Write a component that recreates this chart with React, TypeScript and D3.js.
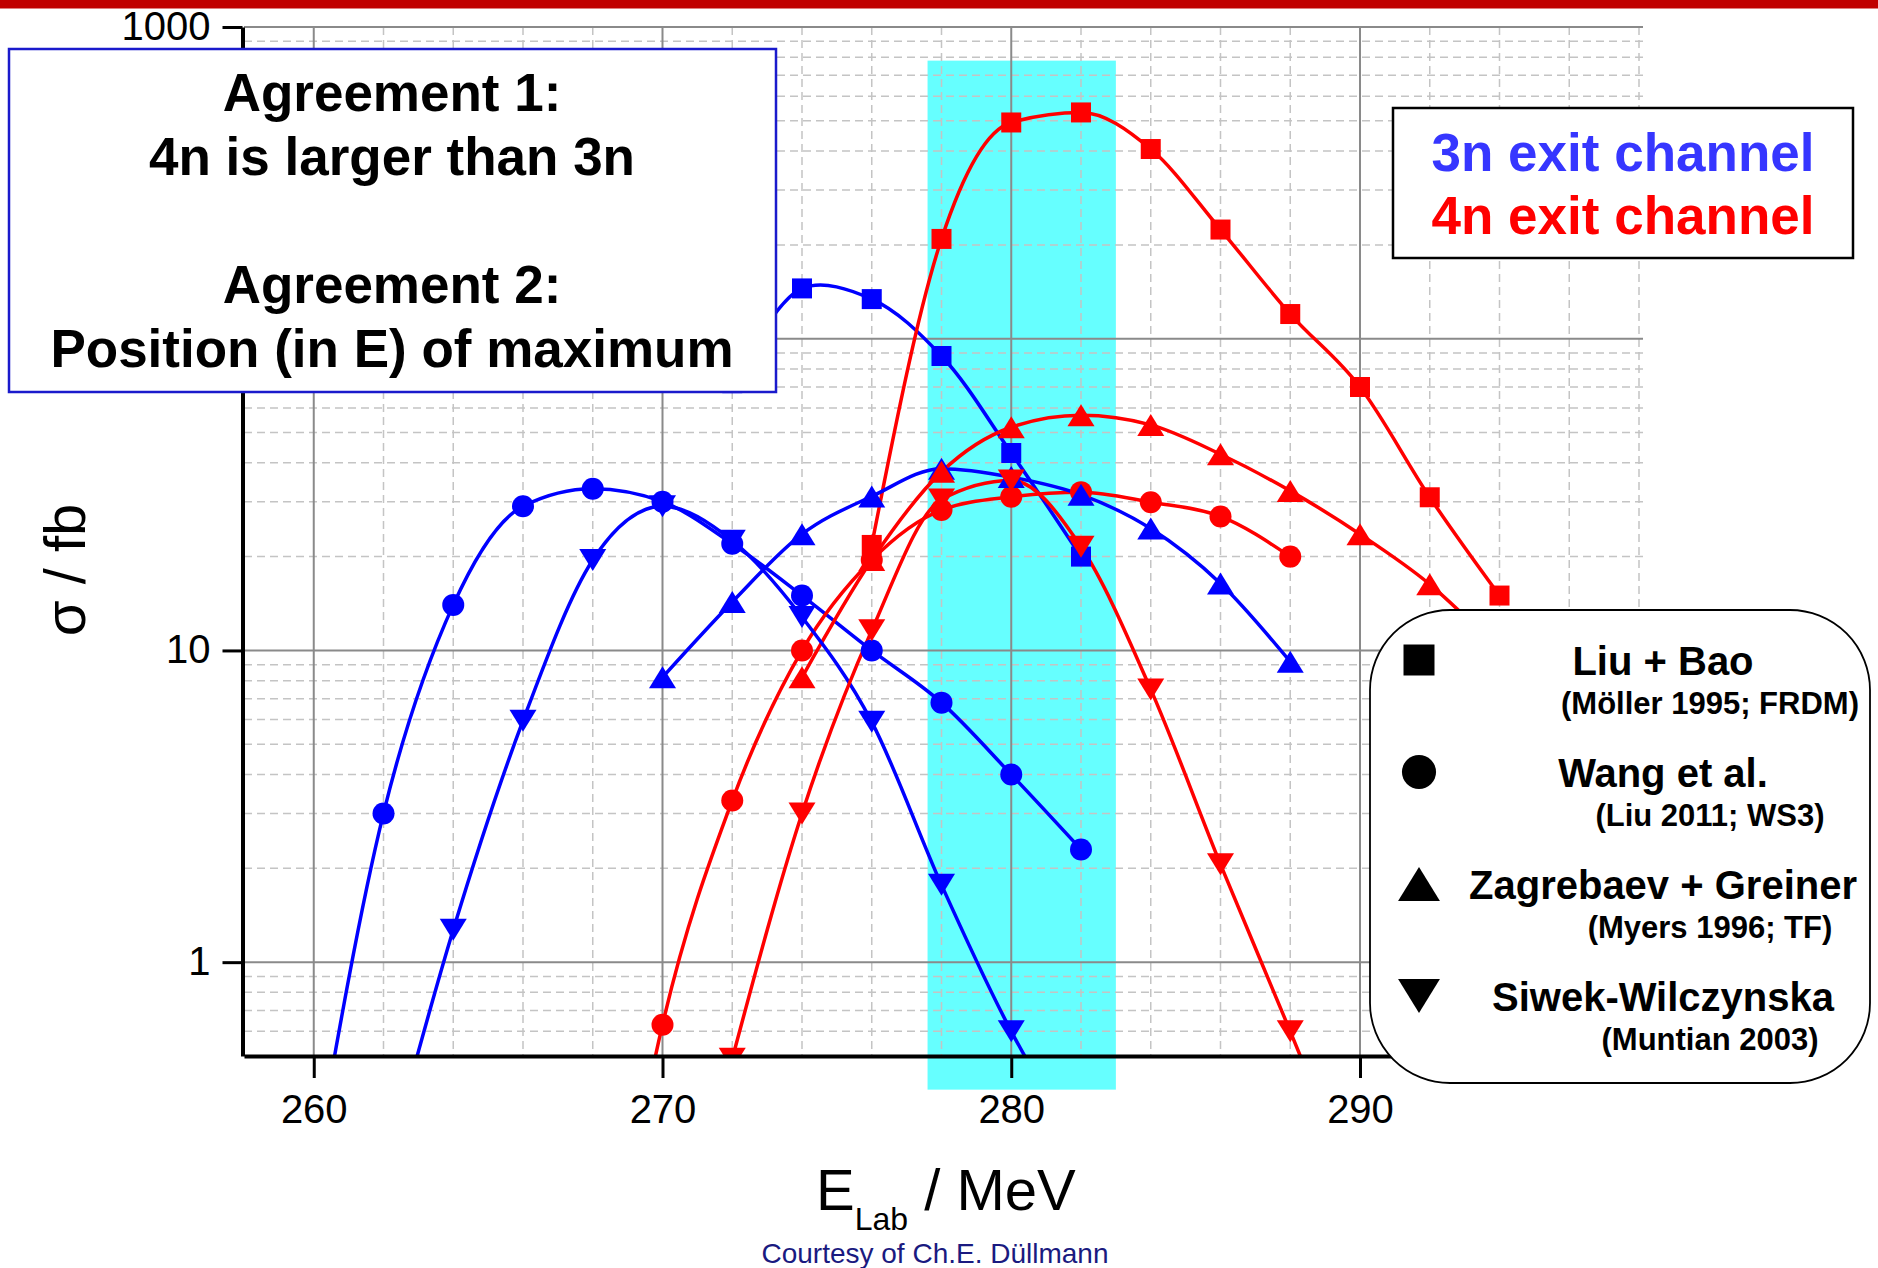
import React, { useRef, useEffect } from "react";
import * as d3 from "d3";

const W = 1878;
const H = 1268;
const PLOT = { left: 244, right: 1639, top: 27, bottom: 1056 };
const FONT = "'Liberation Sans', Arial, Helvetica, sans-serif";

const BLUE = "#0000ff";
const RED = "#ff0000";

// ── axes ─────────────────────────────────────────────────
const X_DOMAIN = [258, 298];
const Y_DOMAIN = [0.5, 1000];
const X_MAJOR = [260, 270, 280, 290];
const X_MINOR = [258, 262, 264, 266, 268, 272, 274, 276, 278, 282, 284, 286, 288, 292, 294, 296, 298];
const Y_MAJOR = [1, 10, 100, 1000];
const Y_LABELS = [1, 10, 1000]; // "100" sits under the annotation box
const Y_MINOR = [0.6, 0.7, 0.8, 0.9, 2, 3, 4, 5, 6, 7, 8, 9, 20, 30, 40, 50, 60, 70, 80, 90, 200, 300, 400, 500, 600, 700, 800, 900];

// highlighted energy window (MeV) and its vertical extent (fb)
const BAND_E = [277.6, 283.0];
const BAND_S = [0.39, 780];

// ── 3n exit channel ─────────────────────────────────────
const E_LIU_3N = [272, 274, 276, 278, 280, 282];
const S_LIU_3N = [72, 145, 134, 88, 43, 20];

const E_WANG_3N = [260, 262, 264, 266, 268, 270, 272, 274, 276, 278, 280, 282];
const S_WANG_3N = [0.21, 3.0, 14, 29, 33, 30, 22, 15, 10, 6.8, 4.0, 2.3];

const E_ZAG_3N = [270, 272, 274, 276, 278, 280, 282, 284, 286, 288];
const S_ZAG_3N = [8.2, 14.3, 23.6, 31.2, 38.3, 36, 31.6, 24.6, 16.4, 9.2];

const E_SIW_3N = [262, 264, 266, 268, 270, 272, 274, 276, 278, 280, 282];
const S_SIW_3N = [0.2, 1.27, 5.95, 19.5, 29, 22.5, 12.8, 5.9, 1.77, 0.6, 0.25];

// ── 4n exit channel ─────────────────────────────────────
const E_LIU_4N = [276, 278, 280, 282, 284, 286, 288, 290, 292, 294];
const S_LIU_4N = [21.8, 209, 494, 532, 406, 224, 120, 70, 31, 15];

const E_WANG_4N = [268, 270, 272, 274, 276, 278, 280, 282, 284, 286, 288];
const S_WANG_4N = [0.04, 0.63, 3.3, 10, 19.5, 28.2, 31.1, 32.2, 29.9, 26.9, 20];

const E_ZAG_4N = [274, 276, 278, 280, 282, 284, 286, 288, 290, 292, 294];
const S_ZAG_4N = [8.2, 19.5, 37.4, 52, 56.8, 52.9, 42.6, 32.5, 23.6, 16.3, 10];

const E_SIW_4N = [272, 274, 276, 278, 280, 282, 284, 286, 288, 290];
const S_SIW_4N = [0.49, 3.0, 11.6, 30.5, 35.1, 21.5, 7.5, 2.06, 0.6, 0.17];

// ── texts ───────────────────────────────────────────────
const NOTE_LINES = ["Agreement 1:", "4n is larger than 3n", "", "Agreement 2:", "Position (in E) of maximum"];
const CHANNEL_LABELS = ["3n exit channel", "4n exit channel"];
const LEGEND_TITLES = ["Liu + Bao", "Wang et al.", "Zagrebaev + Greiner", "Siwek-Wilczynska"];
const LEGEND_SUBS = ["(Möller 1995; FRDM)", "(Liu 2011; WS3)", "(Myers 1996; TF)", "(Muntian 2003)"];
const LEGEND_SHAPES = ["square", "circle", "up", "down"];

const SERIES = [
  { e: E_LIU_3N, s: S_LIU_3N, color: BLUE, shape: "square", curve: d3.curveCatmullRom },
  { e: E_LIU_4N, s: S_LIU_4N, color: RED, shape: "square", curve: d3.curveMonotoneX },
  { e: E_WANG_3N, s: S_WANG_3N, color: BLUE, shape: "circle", curve: d3.curveMonotoneX },
  { e: E_WANG_4N, s: S_WANG_4N, color: RED, shape: "circle", curve: d3.curveMonotoneX },
  { e: E_ZAG_3N, s: S_ZAG_3N, color: BLUE, shape: "up", curve: d3.curveMonotoneX },
  { e: E_ZAG_4N, s: S_ZAG_4N, color: RED, shape: "up", curve: d3.curveMonotoneX },
  { e: E_SIW_3N, s: S_SIW_3N, color: BLUE, shape: "down", curve: d3.curveMonotoneX },
  { e: E_SIW_4N, s: S_SIW_4N, color: RED, shape: "down", curve: d3.curveMonotoneX },
];

function markerPath(shape: string, k: number) {
  if (shape === "square") {
    const h = 10 * k;
    return `M${-h},${-h}h${2 * h}v${2 * h}h${-2 * h}Z`;
  }
  if (shape === "circle") {
    const r = 11 * k;
    return `M${-r},0a${r},${r} 0 1,0 ${2 * r},0a${r},${r} 0 1,0 ${-2 * r},0Z`;
  }
  const hw = 13.5 * k;
  const hh = 11 * k;
  if (shape === "up") return `M0,${-hh}L${hw},${hh}L${-hw},${hh}Z`;
  return `M0,${hh}L${hw},${-hh}L${-hw},${-hh}Z`;
}

export default function App() {
  const svgRef = useRef<SVGSVGElement>(null);

  useEffect(() => {
    const svg = d3.select(svgRef.current);
    svg.selectAll("*").remove();

    const x = d3.scaleLinear().domain(X_DOMAIN).range([PLOT.left, PLOT.right]);
    const y = d3.scaleLog().domain(Y_DOMAIN).range([PLOT.bottom, PLOT.top]);

    // ── top red strip ───────────────────────────────────
    svg.append("rect").attr("x", 0).attr("y", 0).attr("width", W).attr("height", 8.5).attr("fill", "#c00000");

    svg.append("defs")
      .append("clipPath")
      .attr("id", "plot-clip")
      .append("rect")
      .attr("x", PLOT.left)
      .attr("y", PLOT.top)
      .attr("width", PLOT.right - PLOT.left)
      .attr("height", PLOT.bottom - PLOT.top);

    // ── cyan window ─────────────────────────────────────
    svg.append("rect")
      .attr("x", x(BAND_E[0]))
      .attr("width", x(BAND_E[1]) - x(BAND_E[0]))
      .attr("y", y(BAND_S[1]))
      .attr("height", y(BAND_S[0]) - y(BAND_S[1]))
      .attr("fill", "#66ffff");

    // ── grid ────────────────────────────────────────────
    const grid = svg.append("g");
    grid.selectAll("line.vmin")
      .data(X_MINOR.filter((d) => d > X_DOMAIN[0]))
      .join("line")
      .attr("x1", (d) => x(d)).attr("x2", (d) => x(d))
      .attr("y1", PLOT.top).attr("y2", PLOT.bottom)
      .attr("stroke", "#c4c4c4").attr("stroke-width", 1.5).attr("stroke-dasharray", "8,5");
    grid.selectAll("line.hmin")
      .data(Y_MINOR)
      .join("line")
      .attr("x1", PLOT.left).attr("x2", PLOT.right + 4)
      .attr("y1", (d) => y(d)).attr("y2", (d) => y(d))
      .attr("stroke", "#c4c4c4").attr("stroke-width", 1.5).attr("stroke-dasharray", "8,5");
    grid.selectAll("line.vmaj")
      .data(X_MAJOR)
      .join("line")
      .attr("x1", (d) => x(d)).attr("x2", (d) => x(d))
      .attr("y1", PLOT.top).attr("y2", PLOT.bottom)
      .attr("stroke", "#8a8a8a").attr("stroke-width", 2);
    grid.selectAll("line.hmaj")
      .data(Y_MAJOR)
      .join("line")
      .attr("x1", PLOT.left).attr("x2", PLOT.right + 4)
      .attr("y1", (d) => y(d)).attr("y2", (d) => y(d))
      .attr("stroke", "#8a8a8a").attr("stroke-width", 2);

    // ── curves + markers ────────────────────────────────
    const plot = svg.append("g").attr("clip-path", "url(#plot-clip)");
    SERIES.forEach((s) => {
      const pts = s.e.map((e, i) => [e, s.s[i]] as [number, number]);
      const line = d3.line<[number, number]>()
        .x((d) => x(d[0]))
        .y((d) => y(d[1]))
        .curve(s.curve);
      plot.append("path")
        .attr("d", line(pts))
        .attr("fill", "none")
        .attr("stroke", s.color)
        .attr("stroke-width", 3.5);
    });
    SERIES.forEach((s) => {
      const pts = s.e.map((e, i) => [e, s.s[i]] as [number, number]);
      plot.selectAll(null)
        .data(pts)
        .join("path")
        .attr("transform", (d) => `translate(${x(d[0])},${y(d[1])})`)
        .attr("d", markerPath(s.shape, 1))
        .attr("fill", s.color);
    });

    // ── axes ────────────────────────────────────────────
    const xAxis = svg.append("g").attr("transform", `translate(0,${PLOT.bottom})`);
    xAxis.call(d3.axisBottom(x).tickValues(X_MINOR).tickSize(12).tickSizeOuter(0).tickFormat(() => ""));
    xAxis.call(d3.axisBottom(x).tickValues(X_MAJOR).tickSize(22).tickSizeOuter(0).tickPadding(17).tickFormat(d3.format("d")));
    xAxis.selectAll("path.domain").attr("stroke", "#000").attr("stroke-width", 4);
    xAxis.selectAll("line").attr("stroke", "#000").attr("stroke-width", 3);
    xAxis.selectAll("text").attr("font-size", 40).attr("font-family", FONT).attr("fill", "#000");

    const yAxis = svg.append("g").attr("transform", `translate(${PLOT.left - 1.5},0)`);
    yAxis.call(d3.axisLeft(y).tickValues(Y_MINOR).tickSize(10).tickSizeOuter(0).tickFormat(() => ""));
    yAxis.call(
      d3.axisLeft(y)
        .tickValues(Y_MAJOR)
        .tickSize(20)
        .tickSizeOuter(0)
        .tickPadding(12)
        .tickFormat((d) => (Y_LABELS.includes(+d) ? d3.format("d")(+d) : ""))
    );
    yAxis.selectAll("path.domain").attr("stroke", "#000").attr("stroke-width", 4);
    yAxis.selectAll("line").attr("stroke", "#000").attr("stroke-width", 3);
    yAxis.selectAll("text").attr("font-size", 40).attr("font-family", FONT).attr("fill", "#000").attr("dy", "0.3em");

    // ── axis titles ─────────────────────────────────────
    const xt = svg.append("text")
      .attr("x", 816).attr("y", 1210)
      .attr("font-family", FONT).attr("font-size", 58).attr("fill", "#000");
    xt.append("tspan").text("E");
    xt.append("tspan").attr("font-size", 32).attr("dy", 20).text("Lab");
    xt.append("tspan").attr("dy", -20).text(" / MeV");

    svg.append("text")
      .attr("transform", "translate(85,570) rotate(-90)")
      .attr("text-anchor", "middle")
      .attr("font-family", FONT).attr("font-size", 58).attr("fill", "#000")
      .text("σ / fb");

    svg.append("text")
      .attr("x", 935).attr("y", 1263)
      .attr("text-anchor", "middle")
      .attr("font-family", FONT).attr("font-size", 28).attr("fill", "#1a1a80")
      .text("Courtesy of Ch.E. Düllmann");

    // ── annotation box ──────────────────────────────────
    svg.append("rect")
      .attr("x", 9).attr("y", 49).attr("width", 767).attr("height", 343)
      .attr("fill", "#fff").attr("stroke", "#1a1acc").attr("stroke-width", 2.5);
    svg.append("g")
      .selectAll("text")
      .data(NOTE_LINES)
      .join("text")
      .attr("x", 392).attr("y", (_d, i) => 111 + i * 64)
      .attr("text-anchor", "middle")
      .attr("font-family", FONT).attr("font-size", 53).attr("font-weight", 700).attr("fill", "#000")
      .text((d) => d);

    // ── channel legend ──────────────────────────────────
    svg.append("rect")
      .attr("x", 1393).attr("y", 108).attr("width", 460).attr("height", 150)
      .attr("fill", "#fff").attr("stroke", "#000").attr("stroke-width", 2.5);
    svg.append("g")
      .selectAll("text")
      .data(CHANNEL_LABELS)
      .join("text")
      .attr("x", 1623).attr("y", (_d, i) => 171 + i * 63)
      .attr("text-anchor", "middle")
      .attr("font-family", FONT).attr("font-size", 53).attr("font-weight", 700)
      .attr("fill", (_d, i) => (i === 0 ? "#3636ff" : RED))
      .text((d) => d);

    // ── model legend ────────────────────────────────────
    svg.append("rect")
      .attr("x", 1370).attr("y", 610).attr("width", 500).attr("height", 473)
      .attr("rx", 80).attr("ry", 80)
      .attr("fill", "#fff").attr("stroke", "#000").attr("stroke-width", 1.8);
    const lg = svg.append("g");
    LEGEND_TITLES.forEach((t, i) => {
      const cy = 660 + i * 112;
      lg.append("path")
        .attr("transform", `translate(1419,${cy})`)
        .attr("d", markerPath(LEGEND_SHAPES[i], 1.55))
        .attr("fill", "#000");
      lg.append("text")
        .attr("x", 1663).attr("y", cy + 15)
        .attr("text-anchor", "middle")
        .attr("font-family", FONT).attr("font-size", 40).attr("font-weight", 700)
        .text(t);
      lg.append("text")
        .attr("x", 1710).attr("y", cy + 54)
        .attr("text-anchor", "middle")
        .attr("font-family", FONT).attr("font-size", 31).attr("font-weight", 700)
        .text(LEGEND_SUBS[i]);
    });
  }, []);

  return (
    <svg
      ref={svgRef}
      width={W}
      height={H}
      style={{ position: "absolute", left: 0, top: 0, background: "#fff" }}
    />
  );
}
